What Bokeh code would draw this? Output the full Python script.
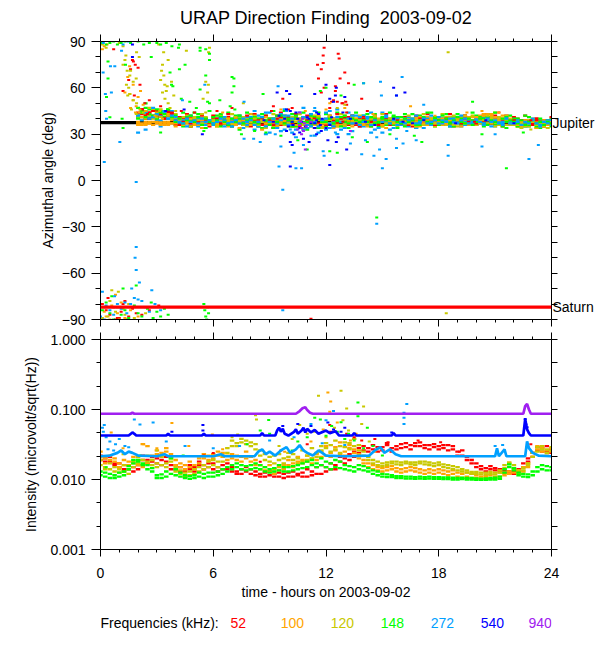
from bokeh.plotting import figure
from bokeh.layouts import column
from bokeh.models import (Range1d, LinearAxis, LogAxis, FixedTicker, CustomJSTickFormatter,
                          PrintfTickFormatter, Span, ColumnDataSource)
from bokeh.core.properties import value
from bokeh.embed import file_html
from bokeh.resources import INLINE

FONT = "Liberation Sans"

# ---------------- legend / colours ----------------
FREQS = ["52", "100", "120", "148", "272", "540", "940"]
COLORS = ["#ff0000", "#ffa500", "#c8c800", "#00ff00", "#00a0ff", "#0000ff", "#a020f0"]

JUPITER_ANGLE = 37.5
SATURN_ANGLE = -82.0

# ---------------- top panel: dense band (azimuth, deg) ----------------
BAND_T = [2.0, 2.2, 2.4, 2.6, 2.8, 3.0, 3.2, 3.4, 3.6, 3.8,
          4.0, 4.2, 4.4, 4.6, 4.8, 5.0, 5.2, 5.4, 5.6, 5.8,
          6.0, 6.2, 6.4, 6.6, 6.8, 7.0, 7.2, 7.4, 7.6, 7.8,
          8.0, 8.2, 8.4, 8.6, 8.8, 9.0, 9.2, 9.4, 9.6, 9.8,
          10.0, 10.2, 10.4, 10.6, 10.8, 11.0, 11.2, 11.4, 11.6, 11.8,
          12.0, 12.2, 12.4, 12.6, 12.8, 13.0, 13.2, 13.4, 13.6, 13.8,
          14.0, 14.2, 14.4, 14.6, 14.8, 15.0, 15.2, 15.4, 15.6, 15.8,
          16.0, 16.2, 16.4, 16.6, 16.8, 17.0, 17.2, 17.4, 17.6, 17.8,
          18.0, 18.2, 18.4, 18.6, 18.8, 19.0, 19.2, 19.4, 19.6, 19.8,
          20.0, 20.2, 20.4, 20.6, 20.8, 21.0, 21.2, 21.4, 21.6, 21.8,
          22.0, 22.2, 22.4, 22.6, 22.8, 23.0, 23.2, 23.4, 23.6, 23.8, 24.0]

BAND_52_A = [41,43,40,44,42,40,43,41,45,42, 39,37,40,38,41,36,39,40,37,38,
             40,38,36,39,41,37,38,40,39,36, 38,41,37,39,35,40,38,42,36,39,
             37,40,38,35,41,39,36,38,40,37, 39,42,38,36,40,37,41,39,38,40,
             38,36,39,41,37,40,38,39,36,40, 39,37,40,38,41,39,37,38,40,39,
             38,40,37,39,41,38,36,39,40,37, 39,41,38,37,40,42,39,38,36,39,
             38,40,37,39,36,38,40,37,39,38,37]
BAND_52_B = [43,46,40,44,41,45,42,40,44,43, 36,41,38,43,35,40,37,42,39,35,
             42,36,40,37,43,35,41,38,36,42, 35,43,39,36,42,38,34,40,44,37,
             41,35,43,38,36,42,39,34,40,37, 36,40,35,43,38,41,36,42,39,35,
             41,38,35,42,37,39,43,36,40,38, 36,41,39,35,42,37,40,43,36,39,
             41,36,39,43,35,40,38,42,37,39, 36,40,43,39,37,41,38,35,42,39,
             41,37,39,42,38,36,40,38,35,39,41]
BAND_52_C = [44,46,42,40,45,41,43,40,42,44, 39,36,38,40,37,39,38,36,40,37,
             38,40,37,39,36,38,41,37,39,38, 36,39,38,40,37,39,36,38,41,37,
             39,37,40,38,36,39,38,40,37,39, 38,36,39,37,40,38,39,37,36,38,
             40,37,38,39,36,38,40,37,38,39, 37,38,36,39,38,40,37,39,38,36,
             39,38,40,37,38,39,37,40,38,39, 37,39,38,40,37,38,36,39,38,37,
             39,37,38,36,38,37,39,38,36,37,38]
BAND_100_A = [37,36,37,38,36,37,38,37,36,37, 38,36,39,37,35,38,40,36,37,39,
              36,38,40,37,35,39,37,38,36,40, 37,39,35,38,36,40,37,34,39,38,
              36,38,35,39,37,34,38,40,36,37, 39,36,38,35,40,37,36,39,38,35,
              37,39,36,38,40,35,38,37,39,36, 38,36,40,37,39,35,38,41,36,38,
              37,39,36,40,38,37,41,39,36,38, 40,42,39,43,41,40,38,42,39,37,
              36,38,35,37,39,36,38,37,35,38,37]
BAND_100_B = [38,39,36,37,38,39,36,38,37,39, 35,39,37,41,38,36,39,34,40,37,
              39,35,37,41,38,36,40,34,39,37, 40,36,38,33,41,37,39,35,38,42,
              39,35,41,37,33,38,40,36,42,35, 37,41,34,39,36,42,38,35,40,37,
              40,35,38,41,36,39,34,40,37,38, 36,40,37,39,35,41,38,36,39,40,
              39,36,41,37,40,38,35,42,39,41, 38,40,43,39,42,44,40,38,41,39,
              38,35,37,39,36,38,34,36,39,37,36]
BAND_100_C = [36,37,38,37,36,38,37,36,38,37, 37,39,36,38,40,37,36,39,38,36,
              38,36,39,37,40,38,36,37,39,38, 36,38,37,39,37,36,40,38,37,39,
              37,39,36,38,40,37,39,38,36,38, 38,37,40,36,38,39,37,40,37,39,
              36,38,40,37,38,36,39,38,40,37, 39,37,38,36,40,38,37,39,38,37,
              38,40,37,39,36,40,38,37,41,39, 41,39,42,40,43,41,39,40,38,40,
              37,36,38,36,37,39,36,38,37,36,38]
BAND_120_A = [41,45,43,40,46,42,44,41,40,42, 40,38,41,39,42,37,40,38,36,39,
              37,40,38,41,36,39,37,42,38,35, 39,37,40,36,41,38,35,39,37,40,
              38,36,40,37,34,39,41,37,36,38, 40,37,39,35,38,41,36,38,40,37,
              39,36,38,40,37,35,39,38,36,40, 37,39,36,38,41,37,39,36,38,40,
              38,36,39,41,37,38,40,36,39,37, 40,38,36,39,41,37,38,40,36,38,
              37,35,38,36,39,37,34,38,36,37,38]
BAND_120_B = [43,44,40,47,45,41,46,43,42,41, 43,36,39,42,35,41,38,43,40,36,
              41,35,42,38,40,43,36,39,41,38, 36,42,38,41,34,39,43,36,40,42,
              35,41,38,43,37,40,35,42,39,34, 38,42,36,40,43,35,39,41,37,42,
              36,41,37,42,39,43,36,40,38,35, 41,36,42,38,35,40,43,37,39,35,
              40,43,36,38,42,35,39,41,37,42, 36,39,42,37,40,35,41,38,42,36,
              39,36,34,38,35,40,37,35,38,34,36]
BAND_120_C = [42,41,45,42,40,44,41,43,42,40, 38,40,37,39,38,40,39,37,41,38,
              39,37,40,38,39,37,41,38,36,39, 38,40,36,38,39,37,40,38,39,36,
              37,39,38,40,36,38,37,39,41,37, 38,39,37,40,38,36,39,37,38,39,
              38,37,40,36,39,38,37,40,38,37, 39,38,37,40,38,39,36,38,40,37,
              37,39,38,40,36,39,38,37,40,38, 38,37,39,40,37,39,36,38,39,37,
              36,38,37,35,37,38,36,37,35,38,37]
BAND_148_A = [47,44,50,46,41,43,45,41,46,42, 36,41,44,38,35,40,43,37,39,45,
              38,42,35,40,44,37,39,33,41,38, 43,36,40,34,42,38,45,35,39,41,
              37,43,35,40,38,33,42,36,44,39, 35,41,38,44,36,40,34,42,37,39,
              42,36,39,43,35,40,38,44,36,41, 38,43,36,40,34,42,39,37,44,35,
              40,37,43,35,41,38,36,42,39,44, 37,41,35,39,43,36,40,38,34,42,
              36,40,38,35,41,37,39,34,38,36,40]
BAND_148_B = [42,44,47,40,41,46,43,45,42,40, 42,37,35,41,39,44,36,40,34,38,
              41,36,43,37,39,35,42,40,36,44, 37,41,35,43,38,40,34,42,37,45,
              40,35,42,37,44,39,36,41,34,38, 43,36,40,38,35,42,39,37,44,36,
              38,43,35,40,37,41,36,39,42,34, 41,35,39,43,37,36,40,44,38,41,
              36,42,39,38,35,43,40,37,41,36, 42,38,40,36,37,44,39,35,41,38,
              40,35,37,42,36,39,35,40,37,39,35]
BAND_148_C = [40,45,41,43,42,40,44,43,46,41, 38,40,37,39,42,38,41,36,40,38,
              37,39,41,38,36,40,38,42,37,39, 40,38,37,41,39,36,40,38,42,37,
              39,38,40,37,41,38,39,37,40,38, 38,40,37,39,41,38,37,40,39,38,
              39,38,41,37,38,40,39,37,41,38, 37,40,38,39,36,39,41,38,37,40,
              39,38,40,37,39,41,38,37,40,39, 38,40,37,41,39,38,37,40,38,39,
              38,37,39,36,38,39,37,38,36,38,37]
BAND_272_A = [31,46,33,42,41,44,35,40,42,45, 38,40,36,39,37,41,35,38,40,36,
              39,37,42,35,38,40,36,39,34,41, 37,33,42,38,30,44,36,40,32,46,
              38,31,43,36,47,34,39,29,42,37, 33,45,38,30,41,36,44,32,39,35,
              42,37,31,40,36,44,38,33,40,37, 39,36,41,37,34,40,38,36,42,37,
              38,40,36,39,37,41,35,38,40,37, 36,39,41,37,38,35,40,37,39,36,
              38,36,39,37,35,38,36,39,37,36,38]
BAND_272_B = [43,41,45,40,47,39,42,44,40,41, 41,37,39,35,42,38,40,37,36,39,
              36,40,38,41,37,35,39,42,38,36, 41,45,35,39,44,31,40,37,43,33,
              42,36,28,44,33,40,35,45,31,39, 44,34,40,46,33,39,30,42,36,41,
              35,40,44,33,39,31,42,37,34,40, 36,40,35,39,42,37,34,40,36,39,
              41,37,39,35,40,38,42,36,39,38, 40,37,36,39,35,41,38,36,40,38,
              36,39,37,35,38,40,37,35,38,39,36]
BAND_272_C = [42,39,44,40,41,43,39,45,40,42, 39,38,37,40,38,39,37,40,38,39,
              37,38,40,39,37,38,39,37,40,38, 39,36,38,41,35,38,40,34,39,42,
              36,40,33,38,41,36,43,38,35,39, 40,37,35,41,38,34,40,37,42,36,
              38,41,36,39,34,38,41,37,39,36, 38,37,39,40,37,38,40,37,38,39,
              37,39,38,40,38,37,39,40,37,38, 39,38,37,40,38,39,37,38,40,37,
              37,38,36,38,37,39,37,36,38,37,39]

# ---------------- top panel: scattered points (hour, azimuth deg) ----------------
AZ_52 = [(11.9,86),(11.85,81),(12.65,82),(12.7,79),(11.85,76),(11.55,75),(11.75,72),
         (13.0,70),(11.6,66),(12.75,66),(11.75,57),(11.9,60),(13.2,63),(12.5,61),
         (12.5,58),(12.9,50),(12.85,50),(13.1,49),(13.9,53),(12.4,52),(12.3,51),
         (12.6,51),(13.05,51),(12.2,47),(9.2,48),(9.1,45),(9.7,53),(10.0,46),(10.2,47),
         (12.9,38),(13.1,44),(14.2,45),(18.6,43),(19.9,38),(21.2,44),(22.9,39),(7.0,47),
         (6.2,45),(4.3,45),(5.0,44),(3.2,48),(2.6,52),
         (1.7,78),(2.0,73),(2.1,62),(2.36,50),(2.24,46),(1.75,77),(1.85,75),(1.6,72),
         (1.5,65),(1.2,58),(1.8,55),(2.5,43),(0.7,85),
         (0.1,-80),(0.3,-84),(0.5,-87),(0.7,-82),(0.9,-89),(1.1,-85),(1.3,-78),(1.5,-88),
         (1.7,-83),(1.9,-86),(0.4,-76),(0.8,-90),(1.2,-80),(2.2,-87),(2.6,-84),(3.1,-81),
         (11.2,-89.5),(1.0,-89),(1.4,-90)]
AZ_100 = [(1.74,62),(1.56,56),(2.0,54),(1.74,52),(2.27,49),(1.3,57),(2.13,58),(1.86,44),
          (1.6,47),(1.45,67),(1.55,74),(2.2,41),(2.4,45),(0.2,87),(0.1,85),(0.35,88),
          (2.9,42),(3.3,40),(3.6,43),(1.9,48),(2.05,44),
          (12.2,50),(13.0,47),(16.5,48),(10.9,45),(12.0,46),(19.5,44),(20.3,45),(20.8,43),
          (21.2,44),(9.6,46),(6.5,44),(8.0,43),(14.5,43),(17.8,42),
          (0.2,-85),(0.6,-81),(0.9,-86),(1.3,-89),(1.6,-84),(0.5,-90),(1.1,-79),(2.0,-88),
          (0.8,-74),(0.3,-88)]
AZ_120 = [(1.2,75),(1.42,71),(1.56,68),(1.74,64),(1.9,66),(1.38,62),(1.56,56),(1.74,52),
          (1.92,50),(2.1,46),(2.27,44),(1.65,46),(1.9,43),(1.2,87),(1.35,81),(1.92,83),
          (2.06,80),(1.3,78),(1.5,60),(1.0,89),(0.1,88),(0.3,86),(1.6,71),(1.45,55),
          (3.25,71),(3.37,68),(3.42,62),(3.55,61),(3.3,57),(3.43,53),(3.7,47),(3.78,64),
          (3.1,88),(3.36,83),(3.6,78),(4.57,84),(3.15,45),(2.98,41),(3.5,58),(3.6,50),
          (3.3,75),(3.2,65),(3.9,55),(4.0,45),
          (5.7,57),(5.6,64),(5.74,62),(5.46,53),(5.8,86),(5.75,83),(5.6,44),(7.6,50),
          (13.0,49),(18.5,83),(10.6,43),(12.6,47),(20.6,42),(22.9,33),
          (0.2,-82),(0.5,-78),(0.8,-85),(1.0,-90),(1.2,-83),(1.5,-80),(1.8,-89),(0.4,-88),
          (0.6,-71),(0.95,-72),(2.4,-86),(1.3,-87),(0.1,-89),(18.4,-86)]
AZ_148 = [(0.1,89),(0.3,88),(0.5,89),(0.7,90),(0.9,88),(1.1,89),(1.3,90),(1.6,89),(2.0,90),
          (2.3,88),(2.6,89),(3.0,89),(3.2,88),(3.5,89),(4.2,88),(5.3,86),(5.6,85),(3.8,87),
          (0.4,77),(1.33,75),(2.7,80),(3.78,62),(3.85,61),(3.7,70),(4.2,72),(4.5,75),
          (4.3,53),(4.75,51),(5.1,47),(5.8,50),(5.6,68),(5.3,59),(5.7,51),(7.0,67),(7.0,57),
          (6.35,52),(7.15,46),(6.9,48),(0.32,54),(0.4,66),(1.2,34),(1.15,40),(0.5,41),
          (4.15,86),(5.8,82),(5.8,78),(5.3,84),(7.1,61),(7.1,66),(8.65,56),(13.5,62),
          (14.0,63),(19.8,51),(21.6,8),(12.0,60),(11.7,58),(12.8,55),
          (8.8,31),(8.2,32),(12.2,19),(12.6,18),(14.2,25),(17.1,25),(13.4,28),(11.0,20),
          (10.5,26),(15.4,30),(16.7,29),(9.6,29),(20.3,30),(22.5,31),(3.2,31),(5.5,32),(7.5,30),
          (0.1,-84),(0.3,-79),(0.5,-86),(0.7,-90),(0.9,-82),(1.1,-87),(1.3,-84),(1.5,-89),
          (1.8,-81),(2.0,-86),(2.2,-88),(2.5,-83),(2.8,-89),(3.0,-85),(3.2,-88),(3.4,-83),
          (3.6,-87),(2.7,-79),(1.2,-70),(1.9,-68),(5.5,-80),(5.55,-84),(5.6,-88),(5.7,-82),
          (5.75,-86),(5.65,-90),(0.6,-75),(14.7,-24)]
AZ_272 = [(0.15,89),(0.53,74),(0.76,74),(1.12,84),(1.47,90),(1.2,88),(0.28,45),(0.26,56),
          (0.58,57),(0.14,70),(0.32,40),(5.55,62),(4.36,52),(7.64,51),(7.64,27),(1.9,-1),
          (0.2,12),(1.03,25),
          (9.45,61),(10.7,61),(14.0,63),(14.9,64),(16.05,67),(14.95,55),(15.75,55),(8.5,25),
          (9.6,22),(9.3,30),(10.3,18),(10.8,23),(11.9,16),(11.85,19),(9.5,9),(10.4,8),(10.7,8),
          (9.7,-6),(13.9,17),(14.55,16),(14.85,20),(15.0,8),(15.75,21),(16.1,24),(15.75,27),
          (14.7,28),(14.1,26),(18.5,23),(18.5,16),(16.3,32),(16.8,26),(17.2,49),(8.15,27),
          (11.2,29),(12.5,31),(13.3,24),(10.1,33),(9.9,45),(11.4,47),(20.3,22),(23.3,23),
          (22.8,14),(21.0,30),(15.2,14),(14.7,-28),
          (0.0,-88),(0.1,-72),(0.75,-75),(1.66,-70),(1.9,-43),(1.84,-50),(1.9,-58),(2.07,-66),
          (2.73,-71),(1.8,-76),(2.0,-77),(2.2,-78),(0.3,-81),(0.5,-84),(0.9,-80),(1.1,-83),
          (1.4,-86),(1.6,-80),(2.4,-82),(2.6,-85),(0.2,-90),(0.7,-87),(1.3,-79),(2.9,-80),
          (3.2,-84),(9.7,-84)]
AZ_540 = [(9.9,58),(10.07,56),(11.4,56),(12.0,62),(12.5,55),(12.55,60),(13.0,54),(12.4,51),
          (12.2,53),(15.6,60),(16.2,57),(15.75,55),(9.9,46),(10.1,45),(10.4,44),(10.2,38),
          (10.25,36),(10.5,40),(10.7,38),(10.9,35),(11.0,41),(11.2,37),(11.4,34),(11.5,39),
          (11.7,36),(10.6,34),(11.1,40),(11.4,37),(11.5,44),(11.6,43),(10.1,25),(10.2,23),
          (9.9,32),(10.8,27),(12.1,26),(12.55,25),(13.1,20),(12.2,10),(10.1,9),(12.2,36),
          (12.9,44),(13.3,40),(14.1,38),(15.6,40),(16.1,38),(16.6,37),(17.2,39),(11.1,25),
          (11.5,30),(11.75,32),(12.0,34),(12.65,28),(1.7,80),(1.7,88),(3.47,45),(5.42,30),
          (4.45,46),(9.4,57),(9.5,42),(9.8,40),(10.0,35),(10.3,30),(10.6,31),(11.8,40),
          (12.3,41),(9.2,38),(8.7,39),(13.6,37),(14.6,36),(18.9,37),(20.5,39),(22.0,37)]
AZ_940 = [(10.6,36),(10.7,34),(10.8,32),(10.65,38),(10.9,20),(10.6,44),(10.75,40),(10.5,33),
          (10.85,37),(10.7,30),(10.95,35),(13.3,32),(11.2,38)]

# ---------------- bottom panel: intensity tracks (microvolt/sqrt(Hz)) ----------------
Q_T = [0.0, 0.25, 0.5, 0.75, 1.0, 1.25, 1.5, 1.75, 2.0, 2.25, 2.5, 2.75, 3.0, 3.25, 3.5, 3.75,
       4.0, 4.25, 4.5, 4.75, 5.0, 5.25, 5.5, 5.75, 6.0, 6.25, 6.5, 6.75, 7.0, 7.25, 7.5, 7.75,
       8.0, 8.25, 8.5, 8.75, 9.0, 9.25, 9.5, 9.75, 10.0, 10.25, 10.5, 10.75, 11.0, 11.25, 11.5, 11.75,
       12.0, 12.25, 12.5, 12.75, 13.0, 13.25, 13.5, 13.75, 14.0, 14.25, 14.5, 14.75, 15.0, 15.25, 15.5, 15.75,
       16.0, 16.25, 16.5, 16.75, 17.0, 17.25, 17.5, 17.75, 18.0, 18.25, 18.5, 18.75, 19.0, 19.25, 19.5, 19.75,
       20.0, 20.25, 20.5, 20.75, 21.0, 21.25, 21.5, 21.75, 22.0, 22.25, 22.5, 22.75, 23.0, 23.25, 23.5, 23.75,
       24.0]

INT_52_A = [.019,.020,.018,.017,.015,.014,.014,.015, .016,.019,.019,.018,.017,.019,.018,.016,
            .014,.013,.013,.014,.015,.016,.016,.015, .014,.015,.016,.014,.013,.013,.012,.013,
            .012,.0115,.011,.011,.0115,.011,.011,.0105, .011,.011,.0115,.011,.011,.0115,.012,.012,
            .013,.014,.016,.018,.017,.019,.021,.024, .026,.028,.027,.025,.029,.031,.028,.030,
            .032,.029,.031,.033,.030,.028,.031,.029, .030,.028,.031,.027,.025,.022,.019,.017,
            .015,.014,.0145,.014,.0135,.013,.0125,.012, .012,.013,.017,.020,.024,.026,.028,.025,
            .024]
INT_52_B = [.022,.018,.021,.016,.017,.013,.016,.013, .014,.022,.017,.021,.020,.016,.021,.014,
            .016,.015,.011,.016,.013,.018,.014,.017, .017,.013,.014,.017,.015,.012,.014,.015,
            .014,.013,.012,.0125,.013,.012,.0125,.012, .0125,.013,.012,.0125,.014,.013,.015,.016,
            .015,.017,.014,.021,.020,.023,.025,.028, .030,.025,.031,.029,.026,.033,.025,.027,
            .028,.033,.027,.030,.034,.031,.027,.032, .027,.031,.026,.030,.022,.026,.021,.019,
            .017,.0155,.013,.0155,.0145,.014,.0135,.013, .013,.014,.015,.018,.021,.029,.025,.030,
            .027]
INT_100_A = [.021,.020,.019,.018,.017,.016,.018,.017, .016,.015,.017,.019,.023,.024,.025,.023,
             .016,.015,.014,.015,.016,.017,.020,.022, .023,.022,.021,.022,.020,.019,.021,.020,
             .018,.016,.014,.0135,.013,.014,.0135,.014, .016,.017,.018,.019,.018,.020,.019,.021,
             .022,.024,.026,.023,.025,.028,.024,.020, .017,.015,.014,.0135,.013,.0135,.014,.013,
             .0125,.013,.0135,.013,.0125,.012,.0125,.012, .0125,.012,.0115,.012,.011,.0105,.011,.0105,
             .0105,.0103,.0105,.0103,.0105,.011,.0115,.012, .0125,.012,.013,.015,.024,.027,.025,.026,
             .025]
INT_100_B = [.025,.017,.022,.020,.015,.019,.016,.021, .019,.032,.030,.022,.026,.022,.028,.021,
             .019,.017,.016,.018,.014,.020,.023,.019, .020,.025,.024,.019,.023,.022,.018,.025,
             .021,.019,.016,.015,.016,.012,.015,.016, .019,.015,.021,.017,.022,.017,.023,.025,
             .030,.021,.029,.034,.022,.031,.027,.023, .019,.017,.016,.015,.0145,.015,.0155,.0145,
             .014,.0145,.015,.0145,.014,.0135,.014,.0135, .014,.0135,.013,.0135,.0125,.012,.0125,.012,
             .0115,.011,.0112,.0115,.011,.0125,.0125,.013, .014,.0135,.015,.017,.021,.030,.028,.022,
             .028]
INT_120_A = [.016,.015,.014,.013,.0125,.013,.014,.015, .017,.019,.018,.016,.015,.016,.017,.018,
             .013,.012,.011,.0115,.012,.013,.014,.015, .016,.015,.018,.024,.030,.033,.034,.032,
             .030,.027,.022,.019,.018,.017,.019,.020, .021,.019,.020,.018,.022,.020,.024,.026,
             .028,.031,.027,.024,.029,.033,.030,.026, .022,.019,.017,.016,.0155,.016,.017,.0165,
             .016,.017,.0165,.016,.017,.0165,.016,.0155, .016,.015,.0145,.014,.0135,.013,.0125,.012,
             .012,.0118,.0118,.012,.0118,.0125,.0145,.017, .0145,.0125,.0135,.016,.021,.025,.027,.024,
             .026]
INT_120_B = [.019,.014,.017,.015,.014,.016,.012,.018, .021,.016,.022,.019,.017,.021,.015,.020,
             .015,.0135,.0125,.013,.014,.015,.016,.018, .019,.018,.022,.028,.036,.030,.038,.036,
             .034,.032,.026,.023,.021,.022,.023,.017, .024,.023,.017,.026,.019,.028,.021,.030,
             .033,.025,.036,.030,.034,.027,.038,.031, .025,.021,.019,.018,.017,.0175,.018,.018,
             .0175,.018,.0175,.0175,.018,.018,.0175,.017, .0175,.0165,.016,.0155,.015,.014,.0135,.0128,
             .0128,.0125,.0125,.0128,.0125,.0135,.016,.0175, .016,.0135,.0145,.017,.024,.029,.030,.027,
             .029]
INT_148_A = [.0115,.011,.0105,.0105,.011,.0115,.014,.017, .018,.016,.014,.013,.0105,.0105,.011,.012,
             .0115,.011,.0105,.0102,.0105,.011,.0105,.011, .011,.0115,.012,.013,.014,.015,.014,.0135,
             .014,.0145,.014,.013,.0125,.013,.0135,.013, .013,.0135,.014,.0145,.015,.016,.015,.016,
             .015,.014,.015,.0145,.014,.0135,.013,.014, .0135,.013,.012,.0115,.011,.0108,.0108,.0105,
             .0105,.0103,.0103,.0102,.0103,.0102,.0103,.0102, .0102,.0101,.0101,.010,.010,.0101,.010,.010,
             .0099,.0099,.0099,.010,.010,.0102,.0125,.015, .0135,.0115,.011,.0108,.0115,.013,.014,.0135,
             .0135]
INT_148_B = [.013,.0125,.012,.0115,.0125,.013,.0155,.019, .019,.017,.016,.0145,.0115,.0118,.013,.020,
             .014,.0125,.0115,.0112,.0115,.0125,.012,.0125, .0125,.013,.014,.015,.016,.017,.016,.0155,
             .016,.017,.016,.015,.014,.0145,.016,.015, .015,.0155,.016,.017,.018,.019,.017,.020,
             .018,.017,.019,.018,.016,.0155,.015,.016, .0155,.0145,.0135,.013,.012,.0118,.0115,.0112,
             .0112,.011,.011,.0108,.011,.0108,.011,.0108, .0108,.0107,.0107,.0106,.0105,.0106,.0105,.0105,
             .0104,.0103,.0104,.0105,.0106,.011,.014,.0165, .0145,.0125,.012,.0118,.013,.015,.016,.0155,
             .015]

# near-constant channels (hour, intensity)
LINE_272 = [(0,.0215),(0.5,.022),(0.9,.024),(1.1,.026),(1.3,.023),(1.5,.025),(1.7,.024),(2.0,.022),
            (3.0,.0215),(3.4,.023),(3.6,.0215),(6.0,.0215),(6.4,.023),(6.6,.0215),(8.2,.0215),
            (8.4,.025),(8.6,.027),(8.8,.023),(9.0,.025),(9.3,.022),(9.6,.026),(9.9,.029),(10.1,.024),
            (10.4,.027),(10.6,.031),(10.8,.026),(11.0,.024),(11.3,.022),(11.6,.026),(11.8,.024),
            (12.0,.022),(13.0,.0215),(14.3,.022),(14.6,.026),(14.9,.029),(15.1,.024),(15.4,.027),
            (15.7,.023),(16.0,.0215),(21.0,.0215),(21.1,.028),(21.2,.0215),(21.5,.027),(21.6,.0215),
            (22.6,.0215),(22.7,.035),(22.8,.028),(23.0,.024),(23.3,.022),(24,.0215)]
LINE_540 = [(0,.0425),(1.5,.0425),(1.7,.047),(1.8,.045),(1.9,.0425),(3.5,.0425),(3.6,.045),
            (3.7,.0425),(5.4,.0425),(5.5,.045),(5.6,.0425),(8.5,.0425),(8.6,.046),(8.7,.0425),
            (9.3,.0425),(9.4,.050),(9.5,.055),(9.6,.048),(9.7,.053),(9.8,.045),(10.0,.0425),
            (10.3,.048),(10.4,.052),(10.5,.045),(10.7,.050),(10.8,.055),(10.9,.047),(11.0,.053),
            (11.2,.047),(11.4,.051),(11.6,.045),(12.0,.050),(12.2,.046),(12.5,.049),(12.7,.0425),
            (13.4,.0425),(13.5,.046),(13.6,.0425),(15.5,.0425),(15.6,.046),(15.7,.0425),
            (22.5,.0425),(22.6,.073),(22.65,.06),(22.7,.052),(22.8,.046),(22.9,.0425),(24,.0425)]
LINE_940 = [(0,.087),(1.6,.087),(1.7,.090),(1.8,.087),(10.4,.087),(10.6,.095),(10.75,.104),
            (10.9,.108),(11.0,.098),(11.15,.090),(11.3,.087),(22.5,.087),(22.6,.112),(22.7,.120),
            (22.8,.100),(22.9,.087),(24,.087)]

# scattered intensity points (hour, intensity)
INT_X_52 = [(12.2,.060),(12.25,.048),(13.5,.040),(13.9,.036),(14.6,.038),(9.6,.026),(5.5,.022),
            (6.0,.024),(16.9,.036),(18.1,.034),(19.1,.025),(22.9,.032),(8.5,.018),(11.0,.032),
            (13.1,.045),(15.3,.034)]
INT_X_100 = [(12.1,.175),(12.25,.130),(12.2,.093),(3.8,.064),(0.57,.047),(5.95,.044),(11.85,.052),
             (12.6,.065),(13.6,.045),(2.3,.032),(3.0,.028),(4.7,.030),(6.5,.027),(9.8,.025),
             (11.2,.035),(13.3,.036),(14.6,.025),(1.2,.028)]
INT_X_120 = [(12.8,.185),(11.6,.157),(14.0,.110),(13.1,.103),(8.25,.083),(8.3,.072),(13.9,.062),
             (12.45,.055),(13.2,.050),(11.0,.045),(10.2,.038),(9.5,.030),(12.0,.040),(14.3,.035),
             (14.8,.028),(11.4,.048),(3.0,.026),(1.2,.023),(7.0,.040),(7.3,.044),(10.6,.060),(12.9,.070)]
INT_X_148 = [(13.7,.126),(8.95,.071),(11.4,.076),(12.8,.066),(13.7,.080),(11.7,.072),(14.2,.055),
             (12.3,.058),(13.2,.045),(10.5,.035),(11.0,.040),(12.0,.042),(13.0,.038),(14.5,.030),
             (8.5,.050),(9.0,.045),(7.8,.032),(4.4,.022),(2.1,.022),(0.3,.015),(14.0,.028),
             (15.0,.022),(10.2,.026),(13.5,.036),(12.6,.048)]
INT_X_272 = [(16.3,.120),(16.15,.090),(16.15,.076),(16.15,.062),(1.8,.072),(0.15,.048),(0.1,.055),
             (0.2,.060),(0.3,.040),(0.5,.035),(0.8,.032),(1.0,.038),(1.3,.030),(2.1,.061),(2.8,.065),
             (21.0,.030),(21.4,.031),(12.4,.095),(11.2,.062),(12.0,.070),(3.5,.035),(4.5,.030),
             (6.0,.028),(7.4,.030),(9.0,.036),(10.3,.040),(11.8,.033),(13.0,.031),(0.4,.027),
             (0.7,.026),(1.5,.029)]
INT_X_540 = [(5.45,.060),(5.45,.050),(10.5,.062),(11.2,.058),(12.1,.065),(12.4,.052),(13.0,.055),
             (9.7,.058),(12.8,.048),(3.8,.048),(15.5,.047),(22.6,.073),(22.62,.066),(22.65,.061),
             (22.7,.056)]

# ---------------- axes / ticks ----------------
X_MAJOR = [0, 6, 12, 18, 24]
X_MINOR = [1, 2, 3, 4, 5, 7, 8, 9, 10, 11, 13, 14, 15, 16, 17, 19, 20, 21, 22, 23]
AZ_MAJOR = [-90, -60, -30, 0, 30, 60, 90]
AZ_MINOR = [-80, -70, -50, -40, -20, -10, 10, 20, 40, 50, 70, 80]
INT_MAJOR = [0.001, 0.01, 0.1, 1.0]
INT_MINOR = [0.00215, 0.00464, 0.0215, 0.0464, 0.215, 0.464]

# legend row: horizontal placement (hours on the shared time axis)
LEGEND_X = [7.33, 10.21, 12.87, 15.53, 18.19, 20.85, 23.4]


def xy(pairs):
    return [p[0] for p in pairs], [p[1] for p in pairs]


def style_axis(ax, major_out, minor_out, labels):
    ax.axis_line_color = "black"
    ax.axis_line_width = 1
    ax.major_tick_line_color = "black"
    ax.minor_tick_line_color = "black"
    ax.major_tick_in = 0
    ax.minor_tick_in = 0
    ax.major_tick_out = major_out
    ax.minor_tick_out = minor_out
    if labels:
        ax.major_label_text_font = FONT
        ax.major_label_text_font_size = "14px"
        ax.major_label_text_color = "black"
        ax.axis_label_text_font = FONT
        ax.axis_label_text_font_size = "14px"
        ax.axis_label_text_font_style = "normal"
        ax.axis_label_text_color = "black"
    else:
        ax.major_label_text_font_size = "1px"
        ax.major_label_text_color = None
        ax.major_label_standoff = 0


def marks(p, x, y, color, w=3, h=2):
    n = min(len(x), len(y))
    src = ColumnDataSource(dict(x=x[:n], y=y[:n]))
    p.rect(x="x", y="y", width=w, height=h, width_units="screen", height_units="screen",
           fill_color=color, line_color=None, source=src)


W = 600
# ---------------- top panel ----------------
p1 = figure(width=W, height=329, x_range=Range1d(0, 24), y_range=Range1d(-90, 90),
            title="URAP Direction Finding\u00a0 2003-09-02",
            output_backend="svg", toolbar_location=None,
            min_border_left=100, min_border_right=49, min_border_top=39, min_border_bottom=10)
p1.title.align = "center"
p1.title.vertical_align = "middle"
p1.title.text_font = FONT
p1.title.text_font_size = "18px"
p1.title.text_font_style = "normal"
p1.title.text_color = "black"
p1.title.standoff = 12
p1.outline_line_color = None
p1.grid.visible = False
xt = FixedTicker(ticks=X_MAJOR, minor_ticks=X_MINOR)
at = FixedTicker(ticks=AZ_MAJOR, minor_ticks=AZ_MINOR)
p1.xaxis.ticker = xt
p1.yaxis.ticker = at
style_axis(p1.xaxis[0], 7, 3, False)
style_axis(p1.yaxis[0], 9, 5, True)
p1.yaxis[0].axis_label = "Azimuthal angle (deg)"
p1.yaxis[0].major_label_standoff = 6
p1.yaxis[0].axis_label_standoff = 3
top1 = LinearAxis(ticker=xt)
style_axis(top1, 7, 3, False)
p1.add_layout(top1, "above")
# right axis: 10-degree ticks plus the Jupiter / Saturn reference labels
right1 = LinearAxis(ticker=FixedTicker(ticks=[SATURN_ANGLE, JUPITER_ANGLE],
                                       minor_ticks=AZ_MAJOR + AZ_MINOR),
                    formatter=CustomJSTickFormatter(code="return tick > 0 ? 'Jupiter' : 'Saturn';"))
style_axis(right1, 0, 6, True)
right1.major_label_standoff = -5
p1.add_layout(right1, "right")

p1.add_layout(Span(location=JUPITER_ANGLE, dimension="width", line_color="black",
                   line_width=3.3, level="underlay"))

band = [(BAND_52_A, BAND_52_B, BAND_52_C), (BAND_100_A, BAND_100_B, BAND_100_C),
        (BAND_120_A, BAND_120_B, BAND_120_C), (BAND_148_A, BAND_148_B, BAND_148_C),
        (BAND_272_A, BAND_272_B, BAND_272_C)]
extras = [AZ_52, AZ_100, AZ_120, AZ_148, AZ_272, AZ_540, AZ_940]
for k in range(3):
    for i, lists in enumerate(band):
        marks(p1, BAND_T, lists[k], COLORS[i], 4, 2.2)
for i, pts in enumerate(extras):
    x, y = xy(pts)
    marks(p1, x, y, COLORS[i])

p1.add_layout(Span(location=SATURN_ANGLE, dimension="width", line_color="#ff0000",
                   line_width=3.3, level="overlay"))

# ---------------- bottom panel ----------------
p2 = figure(width=W, height=280, x_range=Range1d(0, 24), y_range=Range1d(0.001, 1.0),
            y_axis_type="log", output_backend="svg", toolbar_location=None,
            min_border_left=100, min_border_right=49, min_border_top=10, min_border_bottom=60)
p2.outline_line_color = None
p2.grid.visible = False
it = FixedTicker(ticks=INT_MAJOR, minor_ticks=INT_MINOR)
p2.xaxis.ticker = xt
p2.yaxis.ticker = it
p2.yaxis.formatter = PrintfTickFormatter(format="%.3f")
style_axis(p2.xaxis[0], 7, 3, True)
p2.xaxis[0].axis_label = "time - hours on 2003-09-02"
p2.xaxis[0].major_label_standoff = 11
p2.xaxis[0].axis_label_standoff = 3
style_axis(p2.yaxis[0], 9, 4, True)
p2.yaxis[0].axis_label = "Intensity (microvolt/sqrt(Hz))"
p2.yaxis[0].major_label_standoff = 6
p2.yaxis[0].axis_label_standoff = 8
top2 = LinearAxis(ticker=xt)
style_axis(top2, 7, 3, False)
p2.add_layout(top2, "above")
right2 = LogAxis(ticker=FixedTicker(ticks=[], minor_ticks=INT_MAJOR + INT_MINOR))
style_axis(right2, 6, 6, False)
p2.add_layout(right2, "right")

tracks = [(INT_52_A, INT_52_B), (INT_100_A, INT_100_B), (INT_120_A, INT_120_B),
          (INT_148_A, INT_148_B)]
for i, (a, b) in enumerate(tracks):
    marks(p2, Q_T, a, COLORS[i], 4.5, 2.3)
    marks(p2, Q_T, b, COLORS[i], 4.5, 2.3)
iextras = [INT_X_52, INT_X_100, INT_X_120, INT_X_148, INT_X_272, INT_X_540]
for i, pts in enumerate(iextras):
    x, y = xy(pts)
    marks(p2, x, y, COLORS[i])
for pts, c in [(LINE_272, COLORS[4]), (LINE_540, COLORS[5]), (LINE_940, COLORS[6])]:
    x, y = xy(pts)
    p2.line(x, y, line_color=c, line_width=2.7)

# ---------------- legend row (frame aligned with the panels above) ----------------
p3 = figure(width=W, height=26, x_range=Range1d(0, 24), y_range=Range1d(0, 1),
            output_backend="svg", toolbar_location=None,
            min_border_left=100, min_border_right=49, min_border_top=0, min_border_bottom=0)
p3.xaxis.visible = False
p3.yaxis.visible = False
p3.grid.visible = False
p3.outline_line_color = None
p3.text(x=[0], y=[0.5], text=["Frequencies (kHz):"], text_font=value(FONT),
        text_font_size=value("14px"), text_align="left", text_baseline="middle",
        text_color="black")
leg = ColumnDataSource(dict(x=LEGEND_X, y=[0.5] * len(FREQS), text=FREQS, color=COLORS))
p3.text(x="x", y="y", text="text", text_color="color", source=leg, text_font=value(FONT),
        text_font_size=value("14px"), text_align="center", text_baseline="middle")

layout = column(p1, p2, p3)
open("out.html", "w").write(file_html(layout, INLINE))
